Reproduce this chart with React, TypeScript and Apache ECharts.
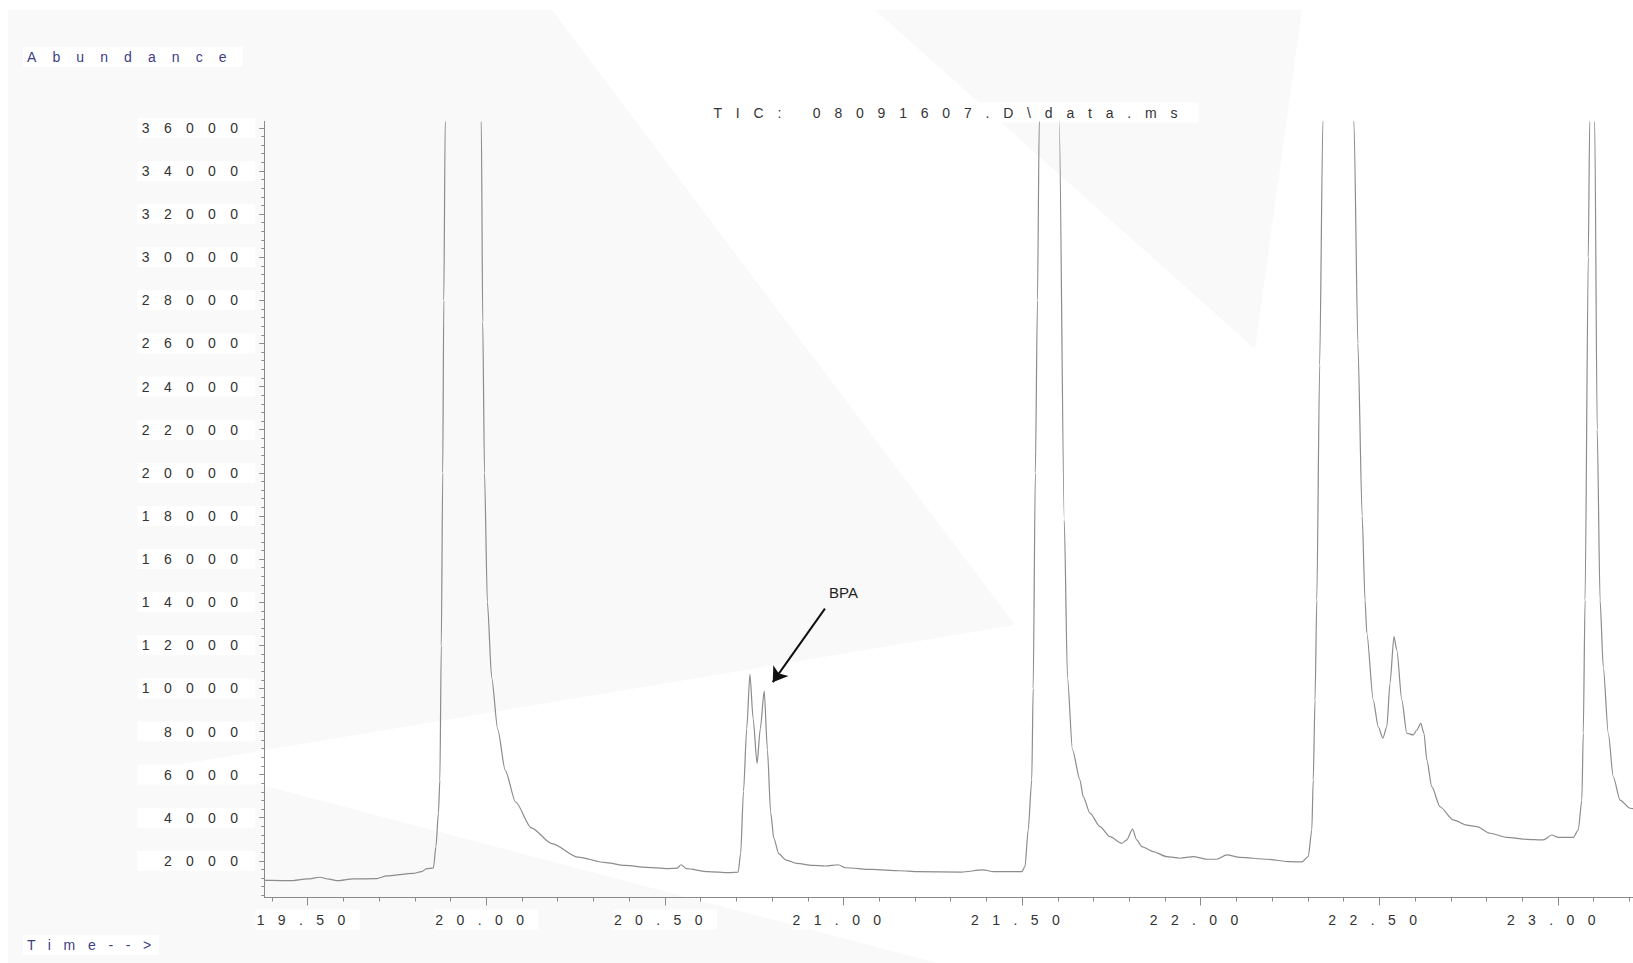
import React, { useEffect, useRef } from "react";
import * as echarts from "echarts";

// ---- axis ranges ----
const TIME_MIN = 19.3785;
const TIME_MAX = 23.2102;
const ABUND_MIN = 300;
const ABUND_MAX = 36300;

// ---- tick labels ----
const timeTicks = [19.5, 20.0, 20.5, 21.0, 21.5, 22.0, 22.5, 23.0];
const abundanceTicks = [
  2000, 4000, 6000, 8000, 10000, 12000, 14000, 16000, 18000,
  20000, 22000, 24000, 26000, 28000, 30000, 32000, 34000, 36000,
];

// ---- TIC trace (retention time, abundance) ----
const traceTime = [
  19.378, 19.4, 19.45, 19.5, 19.534, 19.56, 19.581, 19.627, 19.693, 19.721,
  19.795, 19.819, 19.833, 19.852, 19.859, 19.866, 19.87, 19.874, 19.878, 19.881,
  19.885, 19.935, 19.986, 19.99, 19.995, 20.003, 20.015, 20.032, 20.053, 20.082,
  20.126, 20.184, 20.257, 20.33, 20.388, 20.45, 20.505, 20.535, 20.545, 20.56,
  20.62, 20.68, 20.705, 20.712, 20.72, 20.729, 20.738, 20.747, 20.758, 20.767,
  20.778, 20.787, 20.796, 20.805, 20.819, 20.84, 20.869, 20.913, 20.95, 20.985,
  21.005, 21.08, 21.156, 21.206, 21.33, 21.39, 21.42, 21.499, 21.508, 21.517,
  21.527, 21.531, 21.537, 21.543, 21.548, 21.576, 21.604, 21.618, 21.627, 21.641,
  21.662, 21.671, 21.69, 21.718, 21.746, 21.779, 21.793, 21.809, 21.821, 21.835,
  21.867, 21.905, 21.942, 21.979, 22.017, 22.045, 22.073, 22.11, 22.185, 22.25,
  22.283, 22.301, 22.311, 22.315, 22.32, 22.325, 22.333, 22.342, 22.385, 22.429,
  22.44, 22.452, 22.46, 22.465, 22.483, 22.497, 22.51, 22.521, 22.53, 22.541,
  22.549, 22.563, 22.577, 22.595, 22.605, 22.616, 22.625, 22.633, 22.647, 22.67,
  22.707, 22.745, 22.773, 22.81, 22.857, 22.913, 22.959, 22.983, 23.001, 23.043,
  23.057, 23.067, 23.071, 23.076, 23.085, 23.089, 23.096, 23.103, 23.11, 23.118,
  23.127, 23.141, 23.155, 23.174, 23.202, 23.215,
];
const traceAbundance = [
  1110, 1090, 1080, 1160, 1240, 1150, 1080, 1160, 1175, 1300,
  1420, 1500, 1640, 1670, 2660, 4220, 5750, 12000, 20000, 28000,
  36300, 110000, 36300, 27000, 20000, 14000, 10500, 8100, 6200, 4730,
  3530, 2800, 2170, 1930, 1790, 1700, 1640, 1660, 1820, 1640,
  1500, 1450, 1480, 2320, 5220, 8120, 10650, 8600, 6520, 8120,
  9880, 7150, 4250, 3040, 2320, 2030, 1880, 1790, 1760, 1820,
  1680, 1600, 1540, 1500, 1480, 1580, 1500, 1500, 1730, 3430,
  5750, 10000, 20000, 28000, 36300, 100000, 36300, 17800, 10500, 7150,
  5750, 4980, 4210, 3590, 3120, 2815, 2970, 3470, 2970, 2660,
  2430, 2195, 2120, 2195, 2075, 2075, 2275, 2165, 2075, 1960,
  1950, 2195, 3430, 5750, 9460, 14100, 25000, 36300, 90000, 36300,
  26000, 18000, 14100, 12570, 9460, 8220, 7690, 8220, 10250, 12400,
  11780, 9460, 7920, 7840, 8070, 8380, 7920, 6680, 5440, 4510,
  3900, 3660, 3590, 3280, 3090, 3000, 2970, 3200, 3090, 3090,
  3430, 4820, 7930, 14100, 30000, 36300, 80000, 36300, 22000, 14100,
  11000, 7920, 5900, 4820, 4440, 4400,
];

// ---- BPA annotation (data coordinates) ----
const bpaArrowFrom = [20.948, 13700];
const bpaArrowTo = [20.802, 10290];
const bpaLabelAt = [21.0, 14470];

// minor tick positions
const timeMinor: number[] = [];
for (let k = 194; k <= 232; k++) if (k % 5 !== 0) timeMinor.push(k / 10);
const abundMinor: number[] = [];
for (let v = 400; v <= 36000; v += 400) if (v % 2000 !== 0) abundMinor.push(v);

const FONT = '"Liberation Sans", Arial, Helvetica, sans-serif';
const AXIS_GRAY = "#8a8a8a";
const BG_GRAY = "#f9f9f9";

const css = `
text[fill="#323232"] { letter-spacing: 14.3px; }
text[fill="#333333"] { letter-spacing: 13.4px; }
text[fill="#343434"] { letter-spacing: 13.8px; }
text[fill="#3d3d85"] { letter-spacing: 16.1px; }
text[fill="#3d3d86"] { letter-spacing: 12.7px; }
`;

export default function App() {
  const ref = useRef<HTMLDivElement>(null);
  useEffect(() => {
    if (!ref.current) return;
    const chart = echarts.init(ref.current, null, { renderer: "svg" });
    const option: any = {
      animation: false,
      backgroundColor: "#ffffff",
      textStyle: { fontFamily: FONT },
      grid: {
        left: 264.3,
        top: 121.4,
        right: 0,
        bottom: 65.5,
        containLabel: false,
        outerBoundsMode: "none",
      },
      graphic: [
        {
          type: "polygon",
          z: -100,
          silent: true,
          shape: {
            points: [
              [8, 10], [552, 10], [1015, 625], [182, 764], [937, 963], [8, 963],
            ],
          },
          style: { fill: BG_GRAY },
        },
        {
          type: "polygon",
          z: -100,
          silent: true,
          shape: { points: [[875, 10], [1302, 10], [1255, 349]] },
          style: { fill: BG_GRAY },
        },
        {
          type: "text",
          silent: true,
          style: {
            text: "Abundance",
            x: 23,
            y: 56.7,
            verticalAlign: "middle",
            align: "left",
            fill: "#3d3d85",
            font: `14px ${FONT}`,
            backgroundColor: "#ffffff",
            padding: [3, 4],
            width: 212,
          },
        },
        {
          type: "text",
          silent: true,
          style: {
            text: "TIC: 08091607.D\\data.ms",
            x: 708.5,
            y: 112.5,
            verticalAlign: "middle",
            align: "left",
            fill: "#343434",
            font: `14px ${FONT}`,
            backgroundColor: "#ffffff",
            padding: [3, 5],
            width: 480,
          },
        },
        {
          type: "text",
          silent: true,
          style: {
            text: "Time-->",
            x: 23,
            y: 945,
            verticalAlign: "middle",
            align: "left",
            fill: "#3d3d86",
            font: `14px ${FONT}`,
            backgroundColor: "#ffffff",
            padding: [3, 4],
            width: 128,
          },
        },
      ],
      xAxis: [
        {
          type: "value",
          position: "bottom",
          min: TIME_MIN,
          max: TIME_MAX,
          axisLine: { show: true, onZero: false, lineStyle: { color: AXIS_GRAY, width: 1 } },
          axisTick: {
            show: true,
            customValues: timeTicks,
            length: 8,
            lineStyle: { color: AXIS_GRAY, width: 1 },
          },
          axisLabel: {
            show: true,
            customValues: timeTicks,
            formatter: (v: number) => v.toFixed(2),
            color: "#333333",
            fontSize: 14,
            fontFamily: FONT,
            margin: 12,
            backgroundColor: "#ffffff",
            padding: [3, 2],
            width: 100,
            align: "center",
          },
          splitLine: { show: false },
        },
        {
          type: "value",
          position: "bottom",
          min: TIME_MIN,
          max: TIME_MAX,
          axisLine: { show: false, onZero: false },
          axisTick: {
            show: true,
            customValues: timeMinor,
            length: 4,
            lineStyle: { color: AXIS_GRAY, width: 1 },
          },
          axisLabel: { show: false },
          splitLine: { show: false },
        },
      ],
      yAxis: [
        {
          type: "value",
          position: "left",
          min: ABUND_MIN,
          max: ABUND_MAX,
          axisLine: { show: true, onZero: false, lineStyle: { color: AXIS_GRAY, width: 1 } },
          axisTick: {
            show: true,
            customValues: abundanceTicks,
            length: 5,
            lineStyle: { color: AXIS_GRAY, width: 1 },
          },
          axisLabel: {
            show: true,
            customValues: abundanceTicks,
            formatter: (v: number) => String(v),
            color: "#323232",
            fontSize: 14,
            fontFamily: FONT,
            margin: 9,
            backgroundColor: "#ffffff",
            padding: [3, 3],
            width: 112,
            align: "right",
          },
          splitLine: { show: false },
        },
        {
          type: "value",
          position: "left",
          min: ABUND_MIN,
          max: ABUND_MAX,
          axisLine: { show: false, onZero: false },
          axisTick: {
            show: true,
            customValues: abundMinor,
            length: 3,
            lineStyle: { color: AXIS_GRAY, width: 1 },
          },
          axisLabel: { show: false },
          splitLine: { show: false },
        },
      ],
      series: [
        {
          type: "line",
          name: "TIC",
          xAxisIndex: 0,
          yAxisIndex: 0,
          data: traceTime.map((t, i) => [t, traceAbundance[i]]),
          symbol: "none",
          smooth: 0.25,
          smoothMonotone: "x",
          clip: true,
          silent: true,
          lineStyle: { color: "#8c8c8c", width: 1.2 },
          markLine: {
            silent: true,
            symbol: ["none", "arrow"],
            symbolSize: 14,
            label: { show: false },
            lineStyle: { color: "#111111", width: 2, type: "solid" },
            data: [[{ coord: bpaArrowFrom }, { coord: bpaArrowTo }]],
          },
          markPoint: {
            silent: true,
            symbol: "circle",
            symbolSize: 0,
            label: {
              show: true,
              position: "inside",
              formatter: "BPA",
              color: "#222222",
              fontSize: 15,
              fontFamily: FONT,
            },
            data: [{ coord: bpaLabelAt }],
          },
        },
      ],
    };
    chart.setOption(option);
    return () => chart.dispose();
  }, []);
  return (
    <div style={{ position: "fixed", left: 0, top: 0, width: 1633, height: 963 }}>
      <style>{css}</style>
      <div ref={ref} style={{ width: 1633, height: 963 }} />
    </div>
  );
}
